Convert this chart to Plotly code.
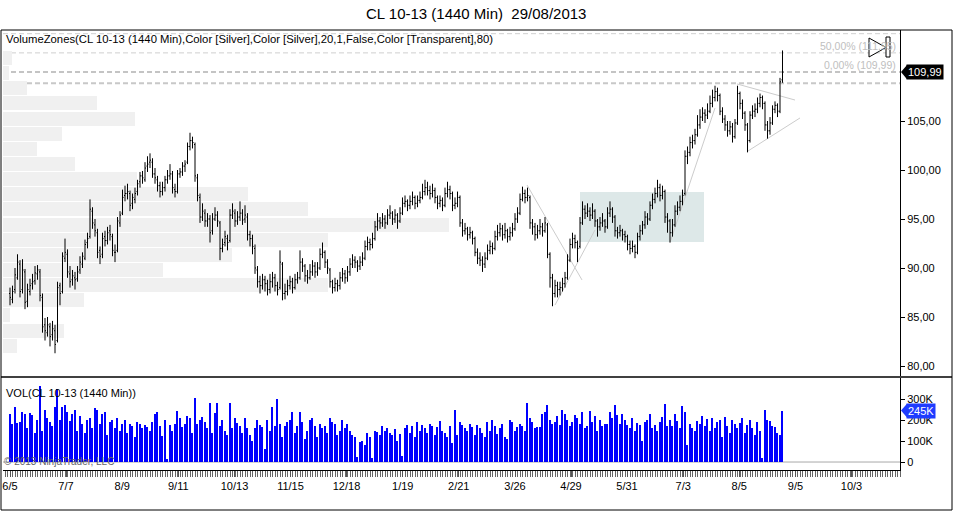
import plotly.graph_objects as go

# ---------------- data ----------------
opens = [
87.4,86.8,87.8,89.0,90.4,87.8,89.6,86.6,87.6,88.4,
88.7,89.4,89.6,87.0,84.2,83.4,84.0,83.2,83.6,82.6,
88.2,87.6,91.0,91.4,89.4,88.8,89.0,88.9,89.8,90.4,
91.0,92.6,93.2,95.8,94.4,93.6,91.8,91.4,93.2,92.8,
93.8,93.2,91.6,91.8,94.6,95.6,97.4,97.6,97.6,96.6,
97.0,97.8,98.8,99.4,99.0,100.4,100.8,100.8,99.6,99.0,
98.4,97.8,98.2,99.0,99.4,99.6,98.0,97.8,99.6,99.8,
100.4,100.8,102.4,103.0,102.6,99.2,97.2,95.2,95.6,94.8,
95.0,93.8,95.0,95.4,94.6,92.0,92.6,93.0,92.8,95.4,
95.6,94.8,95.2,95.6,95.0,95.2,93.4,93.0,92.0,89.8,
88.6,88.2,88.8,88.4,87.8,88.6,89.0,88.2,88.0,90.4,
87.4,87.6,88.2,88.6,88.0,88.8,89.0,90.6,90.2,89.2,
89.0,89.6,90.2,89.6,90.0,91.4,91.6,90.6,89.8,88.6,
88.0,88.4,88.2,89.0,89.4,89.0,89.6,90.4,90.8,90.6,
90.2,90.6,91.0,92.2,92.6,92.4,93.0,94.2,94.8,94.6,
95.0,94.6,95.4,95.6,95.0,95.4,94.8,95.6,96.6,96.8,
96.4,96.8,97.2,96.6,96.9,97.2,97.8,98.2,97.9,97.6,
97.9,97.2,96.6,96.9,96.4,97.6,98.0,97.6,96.4,96.6,
97.2,94.6,93.8,94.0,93.4,93.6,93.0,91.6,91.0,90.8,
90.4,91.0,91.8,92.2,92.0,93.2,93.6,94.0,93.4,93.8,
93.2,93.6,94.0,95.0,95.6,97.0,97.6,97.2,97.2,94.6,
94.2,93.4,93.8,94.2,93.8,94.4,91.4,89.0,87.4,88.2,
87.8,88.0,88.4,89.0,90.8,92.4,93.0,92.6,92.2,94.6,
96.0,95.6,95.8,95.4,95.8,94.8,94.2,94.6,94.8,94.2,
95.6,96.0,95.2,93.8,93.6,93.8,93.4,93.2,92.4,92.0,
92.2,91.6,93.2,93.8,94.4,95.2,95.0,96.4,97.0,97.6,
98.2,97.4,97.8,95.2,94.8,93.6,94.4,95.8,96.2,96.8,
97.6,101.4,101.8,102.8,103.0,103.6,104.6,105.4,105.8,105.6,
106.0,106.8,107.4,108.0,107.6,106.0,105.2,104.6,104.0,104.4,
103.4,104.8,107.8,106.8,105.8,104.6,103.0,105.6,106.0,106.2,
106.8,107.4,106.8,104.6,104.0,104.8,106.2,106.6,106.0,109.2]

highs = [
88.0,88.2,90.0,91.4,90.8,90.9,89.9,88.4,88.9,89.4,
90.2,90.3,89.9,87.4,84.9,85.0,84.4,84.6,84.2,88.6,
88.5,91.6,93.0,91.9,90.2,89.8,89.6,90.2,91.2,91.6,
92.9,93.6,97.0,96.2,95.0,94.0,92.2,93.6,93.8,94.2,
94.4,93.5,92.4,95.2,95.8,98.0,98.4,98.6,97.9,97.6,
98.2,99.0,99.8,99.9,100.8,101.4,101.7,101.2,100.2,99.4,
98.8,98.8,99.4,100.0,100.6,99.9,98.6,100.0,100.2,100.8,
101.0,102.8,103.8,103.4,102.8,99.6,97.6,96.6,96.0,95.6,
95.4,95.6,96.2,95.8,94.8,93.0,93.8,93.4,96.0,96.6,
96.0,95.8,96.8,96.0,96.4,95.6,93.8,93.4,92.4,90.2,
89.2,89.4,89.2,88.8,89.4,89.6,89.4,88.6,91.8,90.6,
88.4,88.8,89.2,89.0,89.4,89.6,91.8,91.0,90.4,89.8,
90.4,90.8,90.6,90.6,92.0,92.6,91.8,90.9,90.0,88.8,
89.0,88.8,89.6,90.0,89.8,90.2,91.0,91.4,91.2,90.8,
91.2,91.6,92.8,93.2,93.0,93.6,94.8,95.6,95.2,95.6,
95.4,96.0,96.4,95.8,96.0,95.6,96.2,97.2,97.4,97.0,
97.4,97.8,97.4,97.4,97.8,98.6,99.0,98.8,98.4,98.6,
98.2,97.4,97.4,97.2,98.2,98.8,98.4,97.8,97.2,97.8,
97.4,95.0,94.6,94.2,94.2,93.8,93.2,92.0,91.6,91.2,
91.6,92.4,92.8,92.6,93.8,94.4,94.6,94.4,94.6,94.0,
94.2,94.6,95.6,96.2,97.6,98.3,98.0,98.2,97.4,95.0,
94.6,94.4,95.0,94.6,95.2,94.6,91.6,89.4,88.8,88.6,
88.6,89.0,89.6,91.4,93.0,93.6,93.4,92.8,95.2,96.8,
96.4,96.6,96.2,96.6,96.0,95.0,95.2,95.6,95.0,96.2,
96.8,96.2,95.4,94.2,94.4,94.0,93.8,93.4,92.8,92.8,
92.4,93.6,94.4,94.8,95.8,95.6,96.8,97.6,98.2,99.0,
98.6,98.4,98.0,95.6,95.0,95.0,96.4,96.8,97.4,98.0,
102.0,102.4,103.4,103.6,104.2,105.6,106.2,106.4,106.2,106.8,
107.6,108.2,108.6,108.4,107.8,106.4,105.6,105.0,105.0,104.8,
105.2,108.6,108.0,107.2,106.0,104.8,106.0,106.6,106.8,107.4,
107.8,107.6,107.0,105.0,105.4,106.6,107.0,106.8,109.4,112.2]

lows = [
86.2,86.4,87.4,88.8,87.0,87.4,85.8,86.0,87.2,87.8,
88.3,88.8,86.6,83.4,82.6,83.0,82.0,82.6,81.3,82.4,
86.2,87.4,90.6,89.0,88.0,88.2,87.8,88.6,89.4,90.0,
90.8,92.0,93.0,94.0,93.2,91.0,90.4,91.0,92.2,92.4,
92.8,91.2,90.6,91.6,94.2,95.4,96.8,97.0,95.8,96.0,
96.6,97.4,98.2,98.6,98.8,99.8,100.2,99.2,98.6,97.8,
97.2,97.4,97.8,98.6,99.0,97.6,97.2,97.6,99.2,99.4,
99.8,100.6,102.0,102.2,98.8,96.8,94.6,94.8,94.2,94.2,
92.6,93.4,94.8,94.2,90.8,91.6,92.2,91.8,92.6,95.0,
94.2,94.4,94.8,94.4,94.6,92.8,92.2,91.4,89.4,88.0,
87.4,87.8,87.6,87.2,87.4,88.0,87.6,87.2,87.8,86.7,
86.8,87.2,87.8,87.4,87.8,88.4,88.8,89.6,88.6,88.4,
88.8,89.2,89.0,89.2,89.8,91.0,90.0,89.4,88.0,87.4,
87.6,87.6,87.8,88.6,88.4,88.6,89.2,90.0,90.0,89.6,
89.8,90.2,90.8,91.8,91.8,92.0,92.8,93.8,94.0,94.2,
94.0,94.4,95.0,94.4,94.6,94.0,94.6,95.4,96.2,95.8,
96.0,96.4,96.0,96.2,96.6,97.0,97.4,97.4,97.0,97.2,
96.6,96.0,96.2,95.8,96.2,97.2,97.0,95.8,96.0,96.2,
94.2,93.2,93.4,92.8,93.0,92.4,91.2,90.4,90.2,89.6,
90.0,90.8,91.4,91.4,91.8,92.8,93.2,92.8,93.0,92.6,
92.8,93.2,93.8,94.6,95.4,96.8,96.6,96.8,94.0,93.4,
92.8,93.0,93.4,93.2,93.6,91.0,88.0,86.1,87.0,87.0,
87.2,87.6,88.0,88.8,90.6,92.0,92.0,90.6,92.0,94.4,
95.0,95.2,94.8,95.0,94.2,93.2,93.8,94.2,93.6,94.0,
95.2,94.6,93.2,93.0,93.2,92.8,92.6,91.8,91.4,91.6,
91.0,91.4,92.8,93.4,94.0,94.4,94.8,96.0,96.6,97.2,
96.8,97.0,94.6,93.6,92.6,93.2,94.2,95.4,95.8,96.4,
97.4,100.6,101.4,102.2,102.6,103.4,104.2,105.0,104.8,105.2,
105.8,106.4,107.0,107.0,105.6,104.8,104.0,103.4,103.6,102.8,
103.2,104.6,106.2,105.2,104.0,101.8,102.8,105.2,105.4,105.8,
106.4,106.2,104.0,103.2,103.6,104.6,105.8,105.4,105.8,108.9]

closes = [
87.0,87.6,89.3,90.6,87.6,89.8,86.5,87.8,88.2,88.6,
89.5,89.8,87.2,84.0,83.6,84.2,83.0,83.8,82.2,88.0,
87.4,91.2,91.6,89.6,88.6,89.2,88.8,89.6,90.6,91.2,
92.4,93.0,96.0,94.6,93.8,91.6,91.2,93.0,92.8,93.6,
93.4,91.8,91.6,94.8,95.4,97.2,97.6,97.8,96.4,97.2,
97.6,98.6,99.4,99.2,100.2,100.6,101.0,99.6,99.2,98.4,
97.8,98.2,99.0,99.4,99.6,98.2,97.8,99.6,99.8,100.4,
100.6,102.4,103.0,102.8,99.4,97.4,95.2,95.8,94.8,95.0,
93.6,95.0,95.4,94.8,92.0,92.4,93.2,92.6,95.4,95.8,
94.8,95.2,95.6,94.9,95.4,93.4,93.0,92.2,90.0,88.6,
88.2,88.8,88.4,87.8,88.6,89.0,88.2,87.8,90.6,87.4,
87.6,88.2,88.6,88.0,88.8,89.0,90.6,90.2,89.2,89.0,
89.6,90.2,89.6,90.0,91.4,91.6,90.6,90.0,88.6,88.0,
88.4,88.2,89.0,89.4,89.0,89.6,90.4,90.8,90.6,90.2,
90.6,91.0,92.2,92.6,92.4,93.0,94.2,94.8,94.6,95.0,
94.6,95.4,95.6,95.0,95.4,94.8,95.6,96.6,96.8,96.4,
96.8,97.2,96.6,96.9,97.2,97.8,98.2,97.9,97.6,97.9,
97.2,96.6,96.9,96.4,97.6,98.0,97.6,96.4,96.6,97.2,
94.6,93.8,94.0,93.4,93.6,93.0,91.6,91.0,90.8,90.4,
91.0,91.8,92.2,92.0,93.2,93.6,94.0,93.4,93.8,93.2,
93.6,94.0,95.0,95.6,97.0,97.6,97.2,97.4,94.6,94.2,
93.4,93.8,94.2,93.8,94.6,91.4,89.0,87.4,88.2,87.8,
88.0,88.4,89.0,90.8,92.4,93.0,92.6,92.0,94.6,96.0,
95.6,95.8,95.4,95.8,94.8,94.2,94.6,94.8,94.2,95.6,
96.0,95.2,93.8,93.6,93.8,93.4,93.2,92.4,92.0,92.2,
91.6,93.2,93.8,94.4,95.2,95.0,96.4,97.0,97.6,98.2,
97.4,97.8,95.2,94.8,93.6,94.4,95.8,96.2,96.8,97.4,
101.4,101.8,102.8,103.0,103.6,104.6,105.4,105.8,105.6,106.0,
106.8,107.4,108.0,107.6,106.0,105.2,104.6,104.0,104.4,103.4,
104.8,107.8,106.8,105.8,104.6,103.0,105.6,106.0,106.2,106.8,
107.4,106.8,104.6,104.0,104.8,106.2,106.6,106.0,109.0,109.99]

volume_k = [
230,180,260,185,190,240,230,160,235,225,
140,200,360,150,250,210,190,170,260,350,
200,260,270,240,195,230,250,150,220,180,
140,200,210,160,255,250,180,230,240,130,
190,200,160,210,150,180,200,140,180,170,
120,190,180,160,175,165,150,190,230,240,
170,125,200,15,175,150,180,245,210,165,
180,220,210,140,305,180,200,215,190,160,
280,140,235,280,170,200,150,130,280,160,
210,185,170,140,210,160,130,100,160,200,
175,165,60,200,150,260,170,300,180,120,
170,190,200,240,140,170,240,190,110,150,
200,210,170,120,180,160,170,140,210,190,
180,130,150,200,160,180,150,130,120,25,
95,100,80,140,120,20,150,145,130,170,
150,160,140,130,155,100,135,30,160,175,
140,170,120,190,150,175,160,140,180,170,
130,165,195,150,140,120,170,90,250,130,
190,175,160,150,180,165,130,175,160,140,
120,190,150,200,170,135,160,180,120,110,
200,190,150,165,180,170,150,280,210,190,
160,165,165,230,240,270,200,180,190,220,
175,250,230,200,170,190,225,210,180,240,
160,170,245,190,220,150,200,170,180,180,
240,210,270,225,180,230,200,175,160,210,
150,185,175,100,190,200,230,160,175,150,
190,215,275,170,200,170,230,195,160,265,
240,80,180,160,150,195,180,220,170,205,
150,210,160,190,200,120,215,170,140,200,
180,160,185,210,140,175,200,160,130,190,
150,20,250,200,195,170,165,140,130,245]

# Volume Zones (20 price zones, bottom -> top), relative volume
zone_volume = [14, 61, 7, 81, 325, 160, 229, 325, 446, 305,
               245, 134, 72, 34, 59, 132, 94, 24, 6, 9]

date_labels = ["6/5", "7/7", "8/9", "9/11", "10/13", "11/15", "12/18", "1/19",
               "2/21", "3/26", "4/29", "5/31", "7/3", "8/5", "9/5", "10/3"]
date_label_bar = [0, 22.4, 44.9, 67.3, 89.8, 112.2, 134.6, 157.1,
                  179.5, 202.0, 224.4, 246.8, 269.3, 291.7, 314.2, 336.6]

price_ticks = [80, 85, 90, 95, 100, 105]
vol_ticks = [0, 100, 200, 300]
vol_tick_text = ["0", "100K", "200K", "300K"]

fib_0, fib_50, fib_100 = 109.99, 111.95, 113.91
hline_level = 108.86
last_price = closes[-1]
last_volume_k = volume_k[-1]

# drawing objects: (bar index, price)
trend_lines = [
    ((206.8, 98.47), (228.8, 88.78)),
    ((218.0, 86.22), (234.0, 93.88)),
    ((264.0, 92.60), (282.0, 106.33)),
    ((290.8, 108.78), (314.0, 107.14)),
    ((295.2, 101.94), (316.0, 105.31)),
]
zone_rect = ((228.0, 92.65), (277.6, 97.76))

# ---------------- layout helpers ----------------
W, H = 953, 513
L, R, T, B = 3, 900, 30, 470
PW, PH = R - L, B - T


def px(x):
    return (x - L) / PW


def py(y):
    return (B - y) / PH


FONT = "Liberation Sans, Arial, sans-serif"
idx = list(range(len(closes)))
xr = [-2.8, 356]

fig = go.Figure()

# volume zones
lo, hi = min(lows), max(highs)
step = (hi - lo) / len(zone_volume)
zone_centers = [lo + step * (k + 0.5) for k in range(len(zone_volume))]
fig.add_trace(go.Bar(
    x=zone_volume, y=zone_centers, orientation="h", width=step * 0.92,
    marker=dict(color="#f0f0f0", line=dict(width=0)),
    xaxis="x2", yaxis="y", hoverinfo="skip", showlegend=False))

# price bars
fig.add_trace(go.Ohlc(
    x=idx, open=opens, high=highs, low=lows, close=closes,
    increasing=dict(line=dict(color="black", width=1)),
    decreasing=dict(line=dict(color="black", width=1)),
    tickwidth=0.4, xaxis="x3", yaxis="y", showlegend=False))

# volume
fig.add_trace(go.Bar(
    x=idx, y=volume_k, width=0.68, marker=dict(color="#0000ff", line=dict(width=0)),
    xaxis="x", yaxis="y2", showlegend=False))

shapes = []
(rx0, ry0), (rx1, ry1) = zone_rect
shapes.append(dict(type="rect", xref="x3", yref="y", x0=rx0, x1=rx1, y0=ry0, y1=ry1,
                   fillcolor="#dde8e8", line=dict(width=0), layer="below"))
for (a, b) in trend_lines:
    shapes.append(dict(type="line", xref="x3", yref="y", x0=a[0], y0=a[1], x1=b[0], y1=b[1],
                       line=dict(color="#cccccc", width=1), layer="below"))
for lvl, w, c in [(fib_100, 1, "#cfcfcf"), (fib_50, 1, "#cfcfcf"),
                  (fib_0, 2, "#c4c4c4"), (hline_level, 2, "#c8c8c8")]:
    shapes.append(dict(type="line", xref="paper", yref="y", x0=0, x1=1, y0=lvl, y1=lvl,
                       line=dict(color=c, width=w, dash="5px,3px"), layer="below"))
shapes.append(dict(type="line", xref="paper", yref="y2", x0=0, x1=1, y0=0, y1=0,
                   line=dict(color="#a8a8a8", width=1), layer="below"))
# frame
shapes.append(dict(type="rect", xref="paper", yref="paper", x0=px(1), x1=px(952),
                   y0=py(510), y1=py(30), line=dict(color="black", width=1)))
shapes.append(dict(type="line", xref="paper", yref="paper", x0=px(1), x1=px(952),
                   y0=py(377), y1=py(377), line=dict(color="black", width=1.5)))
# icon
shapes.append(dict(type="path", xref="paper", yref="paper",
                   path=f"M {px(869)},{py(38)} L {px(869)},{py(57)} L {px(886)},{py(47.5)} Z",
                   fillcolor="white", line=dict(color="black", width=1)))
shapes.append(dict(type="rect", xref="paper", yref="paper", x0=px(886), x1=px(890),
                   y0=py(57), y1=py(37), fillcolor="white", line=dict(color="black", width=1)))
# price / volume marker notches
shapes.append(dict(type="path", xref="paper", yref="y",
                   path=f"M {px(901)},{last_price} L {px(907)},{last_price + 0.72} L {px(907)},{last_price - 0.72} Z",
                   fillcolor="black", line=dict(width=0)))
shapes.append(dict(type="path", xref="paper", yref="y2",
                   path=f"M {px(901)},{last_volume_k} L {px(907)},{last_volume_k + 33} L {px(907)},{last_volume_k - 33} Z",
                   fillcolor="#1f3cff", line=dict(width=0)))


def fmt(v):
    return f"{v:.2f}".replace(".", ",")


def txt(text, x, y, size, color="black", anchor="left", **kw):
    return dict(text=text, xref="paper", yref="paper", x=px(x), y=py(y), xanchor=anchor,
                yanchor="middle", showarrow=False, font=dict(size=size, color=color, family=FONT), **kw)


annotations = [
    txt("CL 10-13 (1440 Min)  29/08/2013", 476, 14, 15, anchor="center"),
    txt("VolumeZones(CL 10-13 (1440 Min),Color [Silver],Color [Silver],20,1,False,Color [Transparent],80)",
        4, 39, 11.3),
    txt("VOL(CL 10-13 (1440 Min))", 4, 393, 11),
    txt("© 2013 NinjaTrader, LLC", 2, 461, 10, color="#666666"),
    txt(f"50,00% ({fmt(fib_50)})", 898, 46, 10.5, color="#c0c0c0", anchor="right"),
    txt(f"0,00% ({fmt(fib_0)})", 898, 65, 10.5, color="#c0c0c0", anchor="right"),
    dict(text=fmt(last_price), xref="paper", yref="y", x=px(906), y=last_price, xanchor="left",
         yanchor="middle", showarrow=False, bgcolor="black", borderpad=1,
         font=dict(size=11, color="white", family=FONT)),
    dict(text=f"{last_volume_k}K", xref="paper", yref="y2", x=px(906), y=last_volume_k, xanchor="left",
         yanchor="middle", showarrow=False, bgcolor="#1f3cff", borderpad=1,
         font=dict(size=11, color="white", family=FONT)),
]

fig.update_layout(
    template="none",
    width=W, height=H, margin=dict(l=L, r=W - R, t=T, b=H - B, autoexpand=False),
    paper_bgcolor="white", plot_bgcolor="white", showlegend=False, bargap=0,
    font=dict(family=FONT, size=11, color="black"),
    xaxis=dict(domain=[0, 1], anchor="y2", range=xr, tickvals=date_label_bar, ticktext=date_labels,
               ticks="outside", ticklen=6, tickcolor="#555555", showline=True, linecolor="black",
               showgrid=False, zeroline=False, tickfont=dict(size=11), automargin=False,
               minor=dict(ticks="outside", dtick=1, tick0=0, ticklen=6, tickcolor="#666666", showgrid=False),
               rangeslider=dict(visible=False), fixedrange=True),
    xaxis2=dict(domain=[0, 1], anchor="y", range=[0, max(zone_volume) * PW / 446], visible=False,
                automargin=False, fixedrange=True),
    xaxis3=dict(domain=[0, 1], anchor="y", overlaying="x2", range=xr, visible=False,
                automargin=False, rangeslider=dict(visible=False), fixedrange=True),
    yaxis=dict(domain=[py(376), 1], anchor="x2", side="right",
               range=[80 + (366 - 376) / 9.8, 80 + (366 - 30) / 9.8],
               tickvals=price_ticks, ticktext=[fmt(v) for v in price_ticks], ticks="outside", ticklen=4,
               tickcolor="black", showline=True, linecolor="black", showgrid=False, zeroline=False,
               tickfont=dict(size=11), automargin=False, fixedrange=True),
    yaxis2=dict(domain=[0, py(378)], anchor="x", side="right", range=[-38, 400],
                tickvals=vol_ticks, ticktext=vol_tick_text, ticks="outside", ticklen=4,
                tickcolor="black", showline=True, linecolor="black", showgrid=False, zeroline=False,
                tickfont=dict(size=11), automargin=False, fixedrange=True),
    shapes=shapes, annotations=annotations,
)

fig.write_html("out.html", config={"displayModeBar": False},
               post_script="document.body.style.margin='0px';document.body.style.overflow='hidden';")
